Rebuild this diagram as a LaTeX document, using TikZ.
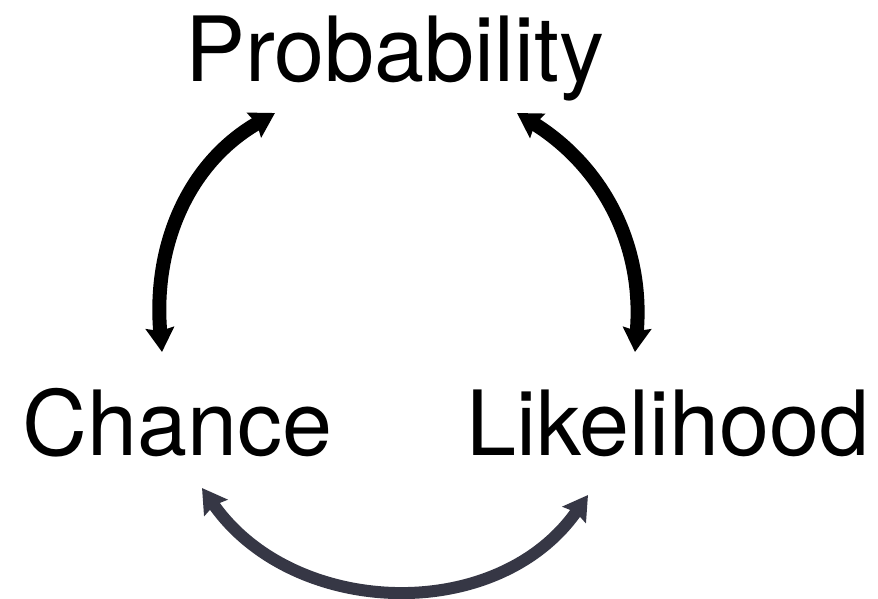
\documentclass[tikz,border=0pt]{standalone}
\usepackage{fontspec}
\setmainfont{TeX Gyre Heros}
\usetikzlibrary{arrows.meta,positioning}
\definecolor{slate}{RGB}{54,55,69}

\begin{document}
\begin{tikzpicture}[
    x=1pt, y=1pt,
    word/.style={inner sep=0pt, anchor=base, font=\fontsize{90}{90}\selectfont},
    twoway/.style={line width=14pt, {Stealth[length=24pt, width=28pt, inset=3pt]}-{Stealth[length=24pt, width=28pt, inset=3pt]}},
    lowarc/.style={twoway, line width=12pt, slate}
]
    \useasboundingbox (0,0) rectangle (878,598);

    \node[word] (prob) at (395,516) {Probability};
    \node[word] (chance) at (177.5,143) {Chance};
    \node[word] (likely) at (668,143) {Likelihood};

    % arrow ends
    \coordinate (c1) at (162,246);
    \coordinate (p1) at (275,485);
    \coordinate (p2) at (517,485);
    \coordinate (l1) at (635,246);
    \coordinate (b1) at (202,110);
    \coordinate (b2) at (588,103);

    \path[twoway]
        (c1) edge[out=95, in=210] (p1)
        (p2) edge[out=-32, in=85] (l1);
    \path[lowarc]
        (b1) edge[out=-55, in=235, looseness=1.05] (b2);
\end{tikzpicture}
\end{document}
